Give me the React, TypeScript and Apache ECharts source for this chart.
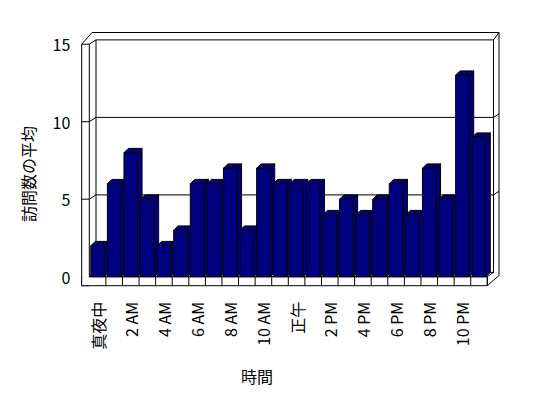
import React, { useEffect, useRef } from "react";
import * as echarts from "echarts";

const categories = [
  "真夜中", "1 AM", "2 AM", "3 AM", "4 AM", "5 AM", "6 AM", "7 AM", "8 AM", "9 AM", "10 AM", "11 AM",
  "正午", "1 PM", "2 PM", "3 PM", "4 PM", "5 PM", "6 PM", "7 PM", "8 PM", "9 PM", "10 PM", "11 PM",
];
const visits = [2, 6, 8, 5, 2, 3, 6, 6, 7, 3, 7, 6, 6, 6, 4, 5, 4, 5, 6, 4, 7, 5, 13, 9];
const gridValues = [0, 5, 10, 15];
const yMin = 0;
const yMax = 15;
const yInterval = 5;
const yAxisName = "訪問数の平均";
const xAxisName = "時間";

const FONT = '"Noto Sans CJK JP", "Noto Sans", sans-serif';

export default function App() {
  const ref = useRef<HTMLDivElement>(null);
  useEffect(() => {
    if (!ref.current) return;
    const chart = echarts.init(ref.current, null, { renderer: "svg" });

    const GL = 89.3, GR = 487.3, GT = 44.2, GB = 276.7;
    const WALL_W = 7.6;
    const FLOOR_H = 9;
    const BDX = 6.7, BDY = -4.3; // back wall depth
    const BACK_R = GR + 6.2; // inner right edge of back wall
    const OUT_R = 499; // outer right edge
    const OUT_T = 32.5; // outer top edge
    const BAR_DX = 4.5, BAR_DY = -4.3;
    const line = (x1: number, y1: number, x2: number, y2: number) => ({
      type: "line",
      shape: { x1, y1, x2, y2 },
      style: { stroke: "#000", lineWidth: 1 },
      silent: true,
    });

    const graphics: any[] = [
      // left wall front face
      {
        type: "rect",
        shape: { x: GL - WALL_W, y: GT, width: WALL_W, height: GB + FLOOR_H - GT },
        style: { fill: "#fff", stroke: "#000", lineWidth: 1 },
        silent: true,
      },
      // floor front face
      {
        type: "rect",
        shape: { x: GL - WALL_W, y: GB, width: GR - GL + WALL_W, height: FLOOR_H },
        style: { fill: "#fff", stroke: "#000", lineWidth: 1 },
        silent: true,
      },
      // cover the wall/floor seam
      {
        type: "rect",
        shape: { x: GL - WALL_W + 0.5, y: GB - 1, width: WALL_W - 1, height: 2 },
        style: { fill: "#fff" },
        silent: true,
      },
      // left wall top
      line(GL - WALL_W, GT, GL - WALL_W + 10.3, OUT_T),
      line(GL - WALL_W + 10.3, OUT_T, OUT_R, OUT_T),
      line(BACK_R, GT + BDY, OUT_R, OUT_T),
      line(OUT_R, OUT_T, OUT_R, GB - 1.2),
      // inner verticals
      line(GL + BDX, GT + BDY, GL + BDX, GB + BDY),
      line(BACK_R, GT + BDY, BACK_R, GB + BDY),
      // floor end face
      line(GR, GB, BACK_R, GB + BDY),
      line(GR, GB + FLOOR_H, OUT_R, GB - 1.2),
      // axis names
      {
        type: "text",
        x: 28,
        y: 174,
        rotation: Math.PI / 2,
        style: {
          text: yAxisName,
          font: `16px ${FONT}`,
          fill: "#000",
          align: "center",
          verticalAlign: "middle",
        },
        silent: true,
      },
      {
        type: "text",
        x: 257,
        y: 376,
        style: {
          text: xAxisName,
          font: `16px ${FONT}`,
          fill: "#000",
          align: "center",
          verticalAlign: "middle",
        },
        silent: true,
      },
    ];

    chart.setOption({
      animation: false,
      backgroundColor: "#fff",
      textStyle: { fontFamily: FONT },
      graphic: graphics,
      grid: {
        left: GL,
        top: GT,
        width: GR - GL,
        height: GB - GT,
        containLabel: false,
        outerBoundsMode: "none",
      },
      xAxis: {
        type: "category",
        data: categories,
        boundaryGap: true,
        axisLine: { show: false },
        axisTick: { show: false },
        splitLine: { show: false },
        axisLabel: {
          interval: 1,
          rotate: 90,
          margin: 25,
          color: "#000",
          fontSize: 16,
          fontFamily: FONT,
        },
      },
      yAxis: {
        type: "value",
        min: yMin,
        max: yMax,
        interval: yInterval,
        axisLine: { show: false },
        axisTick: { show: false },
        splitLine: { show: false },
        axisLabel: { margin: 19, color: "#000", fontSize: 16, fontFamily: FONT },
      },
      series: [
        {
          type: "custom",
          name: "grid",
          z: 1,
          clip: false,
          silent: true,
          data: gridValues.map((v) => [0, v]),
          encode: { x: 0, y: 1 },
          renderItem: (params: any, api: any) => {
            const v = api.value(1);
            const y = api.coord([0, v])[1];
            const cs = params.coordSys;
            const left = cs.x;
            const right = cs.x + cs.width;
            const st = { stroke: "#000", lineWidth: 1, fill: "none" };
            const children: any[] = [];
            if (v > yMin && v < yMax) {
              children.push({ type: "line", shape: { x1: left - WALL_W, y1: y, x2: left, y2: y }, style: st });
              children.push({
                type: "line",
                shape: { x1: right + 6.2, y1: y + BDY, x2: OUT_R, y2: y + BDY - 3.6 },
                style: st,
              });
            }
            children.push({ type: "line", shape: { x1: left, y1: y, x2: left + BDX, y2: y + BDY }, style: st });
            children.push({
              type: "line",
              shape: { x1: left + BDX, y1: y + BDY, x2: right + 6.2, y2: y + BDY },
              style: st,
            });
            if (v === yMin) {
              children.push({ type: "line", shape: { x1: left, y1: y, x2: right, y2: y }, style: st });
            }
            return { type: "group", children };
          },
        },
        {
          type: "custom",
          name: "floor",
          z: 1,
          clip: false,
          silent: true,
          data: categories.map((_, i) => [i, 0]),
          encode: { x: 0, y: 1 },
          renderItem: (params: any, api: any) => {
            const c = api.coord([api.value(0), 0]);
            const band = api.size([1, 0])[0];
            const x = c[0] + band / 2;
            return {
              type: "line",
              shape: { x1: x, y1: c[1], x2: x, y2: c[1] + FLOOR_H },
              style: { stroke: "#000", lineWidth: 1 },
            };
          },
        },
        {
          type: "custom",
          name: "訪問数の平均",
          z: 2,
          clip: false,
          data: visits.map((v, i) => [i, v]),
          encode: { x: 0, y: 1 },
          renderItem: (params: any, api: any) => {
            const idx = api.value(0);
            const v = api.value(1);
            const base = api.coord([idx, 0]);
            const top = api.coord([idx, v]);
            const band = api.size([1, 0])[0];
            const w = band * 0.82;
            const xl = base[0] - w / 2;
            const xr = base[0] + w / 2;
            const yb = base[1];
            const yt = top[1];
            const style = { fill: "#000080", stroke: "#000", lineWidth: 1 };
            return {
              type: "group",
              children: [
                {
                  type: "polygon",
                  shape: {
                    points: [
                      [xr, yt],
                      [xr + BAR_DX, yt + BAR_DY],
                      [xr + BAR_DX, yb + BAR_DY],
                      [xr, yb],
                    ],
                  },
                  style,
                },
                {
                  type: "polygon",
                  shape: {
                    points: [
                      [xl, yt],
                      [xl + BAR_DX, yt + BAR_DY],
                      [xr + BAR_DX, yt + BAR_DY],
                      [xr, yt],
                    ],
                  },
                  style,
                },
                { type: "rect", shape: { x: xl, y: yt, width: w, height: yb - yt }, style },
              ],
            };
          },
        },
      ],
    });
    return () => chart.dispose();
  }, []);
  return (
    <div
      ref={ref}
      style={{ position: "fixed", left: 0, top: 0, width: 548, height: 398 }}
    />
  );
}
